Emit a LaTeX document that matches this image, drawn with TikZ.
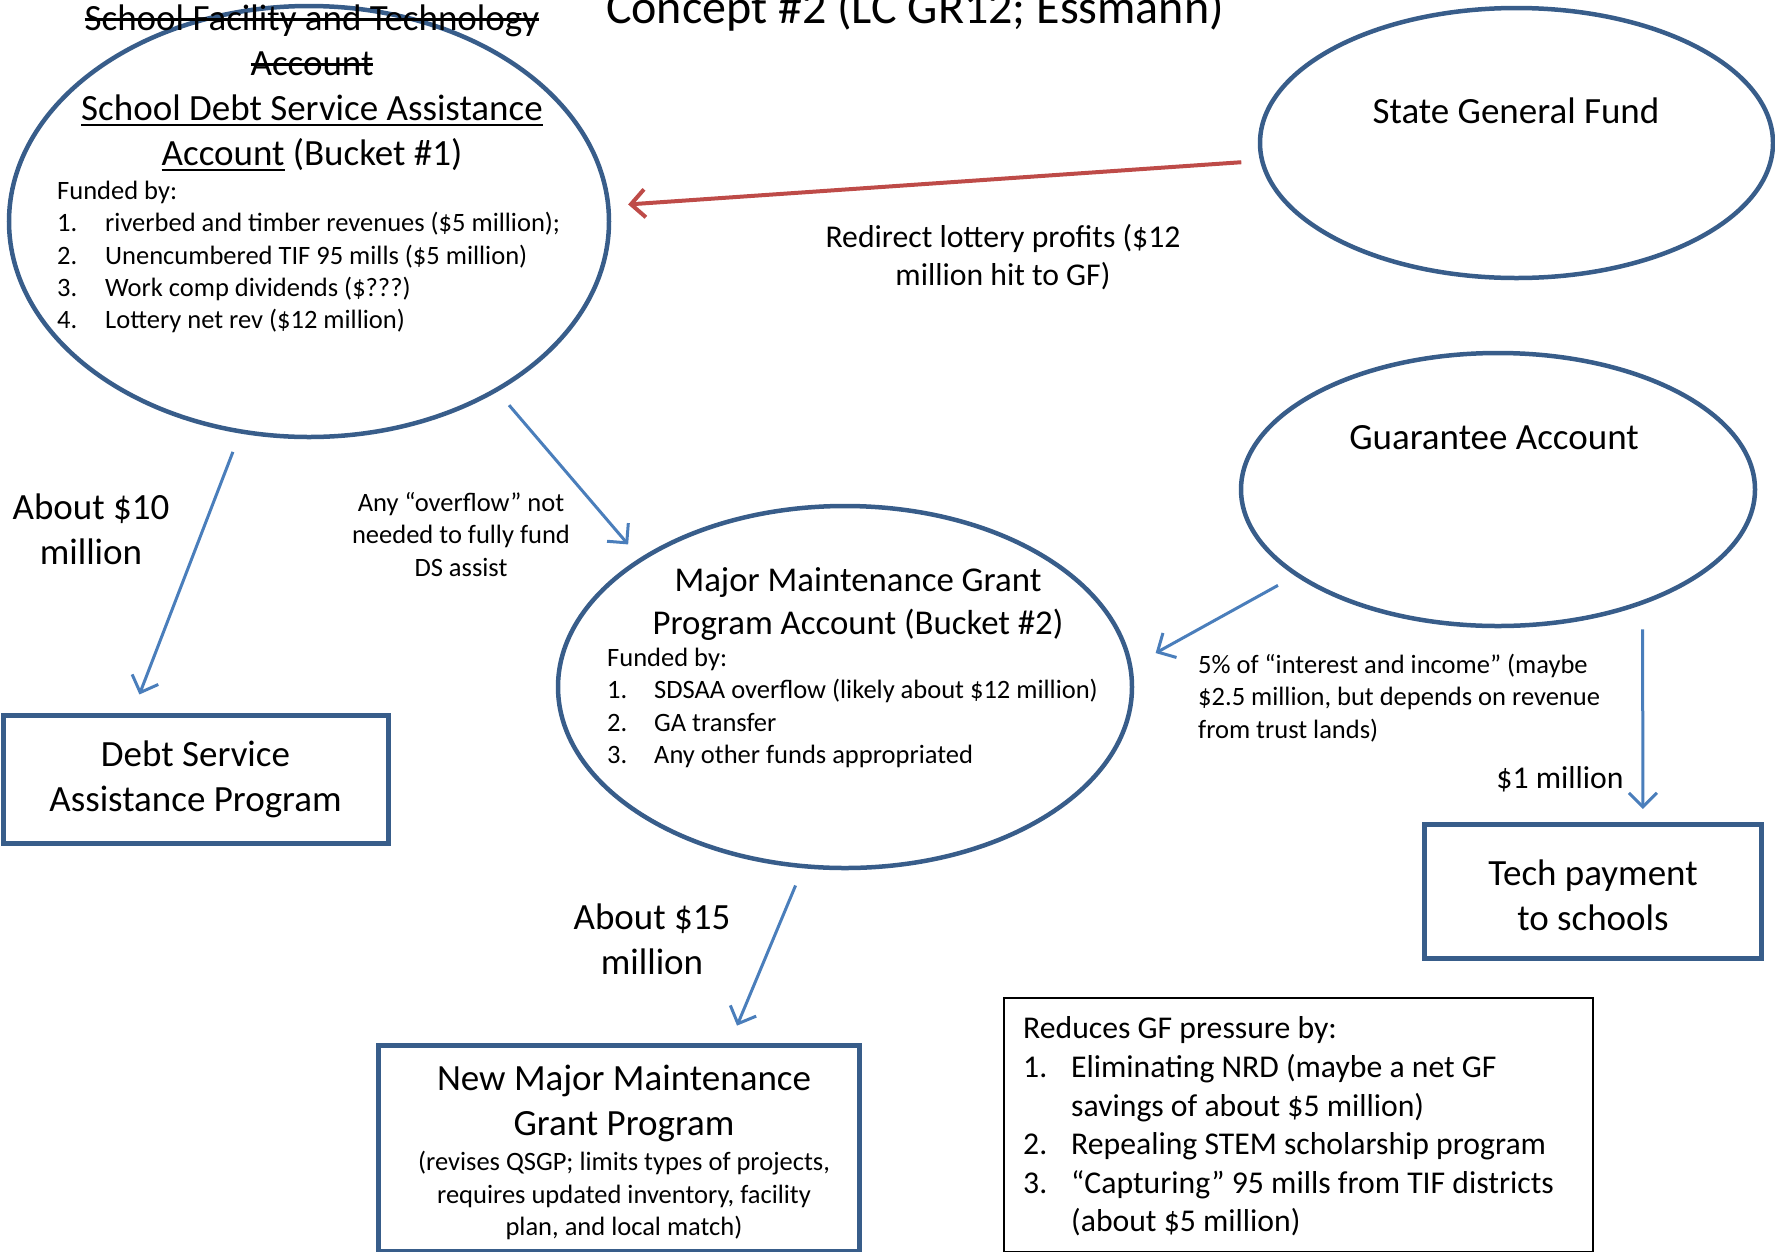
\documentclass[tikz,border=0pt]{standalone}
\usepackage{fontspec}
\setmainfont{Carlito}
\usepackage{tikz}
\usetikzlibrary{shapes.geometric}
\usetikzlibrary{arrows.meta}

\definecolor{outline}{HTML}{385D8A}
\definecolor{flowblue}{HTML}{4A7EBB}
\definecolor{flowred}{HTML}{BE4B48}

\newlength{\markwidth}
\newcommand{\struck}[1]{\settowidth{\markwidth}{#1}\rlap{\rule[0.26em]{\markwidth}{2.5pt}}#1}
\newcommand{\underlined}[1]{\settowidth{\markwidth}{#1}\rlap{\rule[-0.16em]{\markwidth}{2.5pt}}#1}

\tikzset{
  account/.style={ellipse, draw=outline, line width=4.5pt, inner sep=0pt, outer sep=0pt},
  program/.style={rectangle, draw=outline, line width=5pt, inner sep=0pt, outer sep=0pt, align=center},
  titletext/.style={inner sep=0pt, font=\fontsize{48}{58}\selectfont},
  bigtext/.style={inner sep=0pt, align=center, font=\fontsize{37}{45}\selectfont},
  headtext/.style={inner sep=0pt, align=center, font=\fontsize{34.8}{42.4}\selectfont},
  midtext/.style={inner sep=0pt, font=\fontsize{31.7}{38.6}\selectfont},
  smalltext/.style={inner sep=0pt, font=\fontsize{26.5}{32.3}\selectfont},
  flow/.style={draw=flowblue, line width=3pt, -{Straight Barb[length=14pt,width=28pt]}},
  redflow/.style={flow, draw=flowred, line width=4pt}
}

\begin{document}
\begin{tikzpicture}[x=1pt, y=-1pt]
\useasboundingbox (0,0) rectangle (1775,1251);

\node[titletext, anchor=base] (title) at (915,23) {Concept \#2 (LC GR12; Essmann)};

% accounts
\node[account, minimum width=600, minimum height=431] (sdsaa) at (309,221.5) {};
\node[account, minimum width=513, minimum height=270] (sgf) at (1516.5,143) {};
\node[account, minimum width=514, minimum height=273] (ga) at (1498,489.5) {};
\node[account, minimum width=574, minimum height=362] (mm) at (845,687) {};

\node[bigtext] (sdsaatitle) at (312,88) {\struck{School Facility and Technology}\\\struck{Account}\\\underlined{School Debt Service Assistance}\\\underlined{Account} (Bucket \#1)};
\node[smalltext, align=left, anchor=west] (sdsaafunds) at (57,257) {Funded by:\\
\makebox[48pt][l]{1.}riverbed and timber revenues (\$5 million);\\
\makebox[48pt][l]{2.}Unencumbered TIF 95 mills (\$5 million)\\
\makebox[48pt][l]{3.}Work comp dividends (\$???)\\
\makebox[48pt][l]{4.}Lottery net rev (\$12 million)};

\node[bigtext] (sgftitle) at (1516,111) {State General Fund};
\node[bigtext] (gatitle) at (1494,438) {Guarantee Account};

\node[headtext] (mmtitle) at (858,604) {Major Maintenance Grant\\Program Account (Bucket \#2)};
\node[smalltext, align=left, anchor=west] (mmfunds) at (607,708) {Funded by:\\
\makebox[47pt][l]{1.}SDSAA overflow (likely about \$12 million)\\
\makebox[47pt][l]{2.}GA transfer\\
\makebox[47pt][l]{3.}Any other funds appropriated};

% programs
\node[program, bigtext, minimum width=385, minimum height=128] (dsa) at (195.5,779) {Debt Service\\Assistance Program};
\node[program, minimum width=337, minimum height=134] (tech) at (1592.5,891) {};
\node[bigtext] (techtitle) at (1593,895) {Tech payment\\to schools};
\node[program, minimum width=481, minimum height=206] (newmm) at (618.5,1148) {};
\node[bigtext] (newmmtitle) at (624,1103) {New Major Maintenance\\Grant Program};
\node[smalltext, align=center] (newmmnote) at (624,1195.5) {(revises QSGP; limits types of projects,\\requires updated inventory, facility\\plan, and local match)};

\node[draw=black, line width=1.5pt, inner sep=0pt, minimum width=589, minimum height=254] (reduce) at (1298.5,1125) {};
\node[midtext, align=left, anchor=west] (reducetext) at (1023,1126.5) {Reduces GF pressure by:\\
\makebox[48pt][l]{1.}Eliminating NRD (maybe a net GF\\
\hspace*{48pt}savings of about \$5 million)\\
\makebox[48pt][l]{2.}Repealing STEM scholarship program\\
\makebox[48pt][l]{3.}“Capturing” 95 mills from TIF districts\\
\hspace*{48pt}(about \$5 million)};

% flows
\draw[redflow, shorten <=21pt, shorten >=20pt] (sgf.184.7) -- (sdsaa.3.35);
\node[midtext, align=center] (redirect) at (1003,257) {Redirect lottery profits (\$12\\million hit to GF)};

\draw[flow, shorten <=22pt, shorten >=22pt] (sdsaa.252.6) -- (dsa.135.4);
\node[bigtext] (about10) at (91,529) {About \$10\\million};

\draw[flow, shorten <=20pt, shorten >=20pt] (sdsaa.318.1) -- (mm.148.8);
\node[smalltext, align=center] (overflow) at (461,534.5) {Any “overflow” not\\needed to fully fund\\DS assist};

\draw[flow, shorten <=22pt, shorten >=29pt] (ga.203) -- (mm.4.7);
\node[smalltext, align=left, anchor=west] (interest) at (1198,698) {5\% of “interest and income” (maybe\\\$2.5 million, but depends on revenue\\from trust lands)};

\draw[flow, shorten <=27pt, shorten >=15pt] (ga.322.1) -- (tech.53);
\node[midtext] (onemillion) at (1560,779) {\$1 million};

\draw[flow, shorten <=21pt, shorten >=21pt] (mm.257.2) -- (newmm.43.9);
\node[bigtext] (about15) at (652,939.5) {About \$15\\million};
\end{tikzpicture}
\end{document}
